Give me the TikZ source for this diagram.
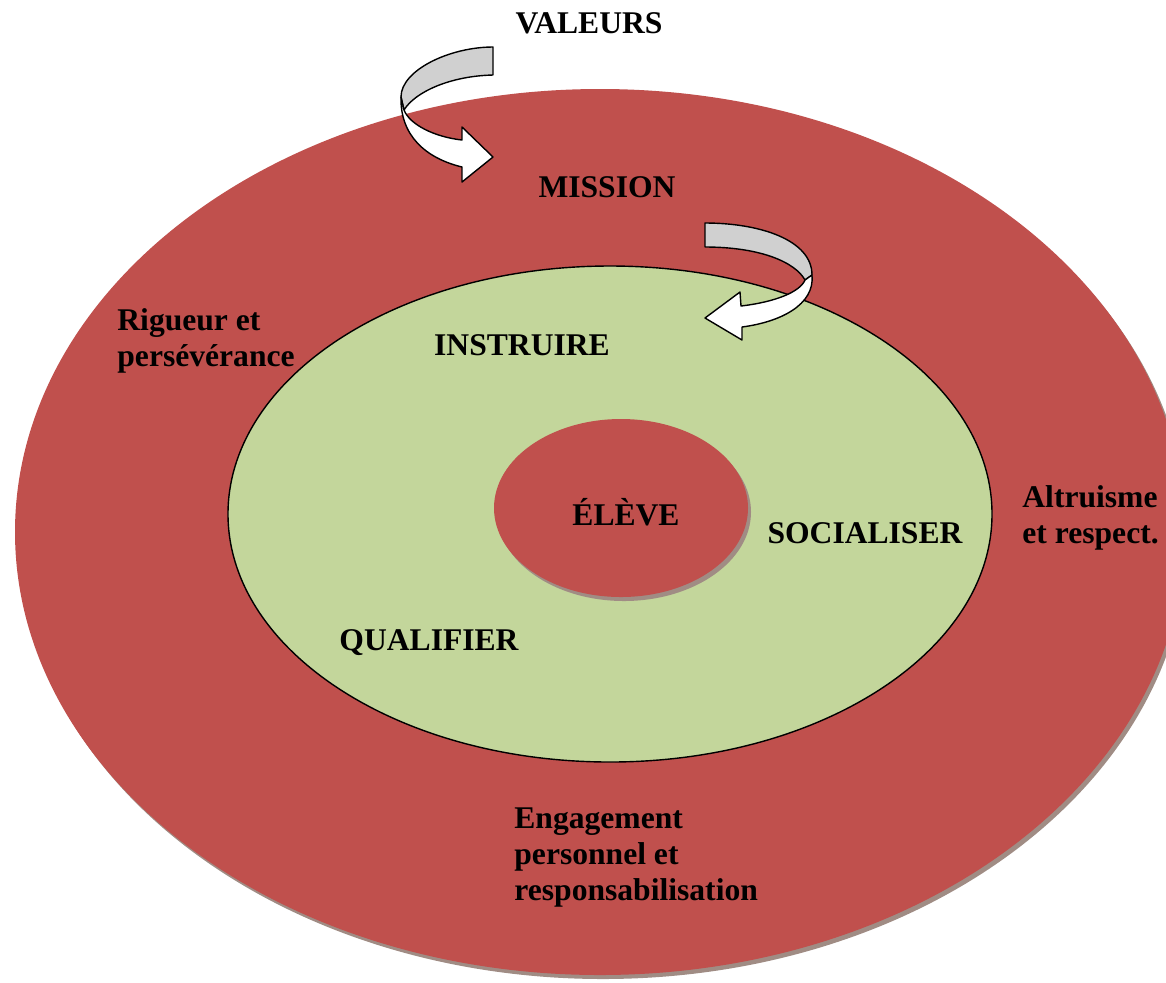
\documentclass[tikz,border=0pt]{standalone}
\usepackage{fontspec}
\setmainfont{Liberation Serif}
\usetikzlibrary{shapes.geometric,shadows,positioning}
\definecolor{rouge}{RGB}{192,80,77}
\definecolor{vert}{RGB}{195,214,155}
\definecolor{gris}{RGB}{208,208,208}
\definecolor{ombre}{RGB}{160,140,132}

\begin{document}
\begin{tikzpicture}[x=0.5pt,y=-0.5pt,
    disque/.style={ellipse,fill=rouge,inner sep=0pt,drop shadow={shadow xshift=1.5pt,shadow yshift=-2pt,fill=ombre,opacity=1}},
    mot/.style={font=\bfseries\fontsize{15.8}{18}\selectfont,inner sep=0pt},
    ruban/.style={draw,line width=0.7pt,line join=round}]
    \useasboundingbox (0,0) rectangle (1166,982);
    \node[disque,minimum width=585pt,minimum height=443pt](ext) at (600,532){};
    \node[ellipse,draw,fill=vert,line width=0.7pt,minimum width=382pt,minimum height=248pt](milieu) at (610,514){};
    \node[disque,minimum width=127pt,minimum height=89pt](centre) at (621,508){};
    \node[mot,anchor=base](valeurs) at (589,33){VALEURS};
    \node[mot,anchor=base](mission) at (607,197){MISSION};
    \node[mot,anchor=base](instruire) at (522,355){INSTRUIRE};
    \node[mot,anchor=base](eleve) at (626,525){ÉLÈVE};
    \node[mot,anchor=base](socialiser) at (865,543){SOCIALISER};
    \node[mot,anchor=base](qualifier) at (429,650){QUALIFIER};
    \node[mot,anchor=west,align=left](rigueur) at (117,341){Rigueur et\\persévérance};
    \node[mot,anchor=west,align=left](altruisme) at (1022,518){Altruisme\\et respect.};
    \node[mot,anchor=west,align=left](engagement) at (514,857){Engagement\\personnel et\\responsabilisation};
    % valeurs vers mission
    \filldraw[ruban,fill=gris] (493,47) .. controls (450,47) and (401,70) .. (401,97) -- (404,110) .. controls (415,92) and (450,76) .. (493,75) -- cycle;
    \filldraw[ruban,fill=white] (401,97) .. controls (400,135) and (425,158) .. (462,167) -- (462,182) -- (493,157) -- (462,127) -- (462,140) .. controls (435,137) and (410,125) .. (404,110) -- cycle;
    % mission vers instruire
    \filldraw[ruban,fill=gris] (705,223) .. controls (760,223) and (812,240) .. (812,275) -- (805,280) .. controls (795,262) and (760,247) .. (705,247) -- cycle;
    \filldraw[ruban,fill=white] (812,275) .. controls (815,305) and (780,322) .. (742,327) -- (742,340) -- (705,318) -- (740,292) -- (741,306) .. controls (775,302) and (800,292) .. (805,280) -- cycle;
\end{tikzpicture}
\end{document}
